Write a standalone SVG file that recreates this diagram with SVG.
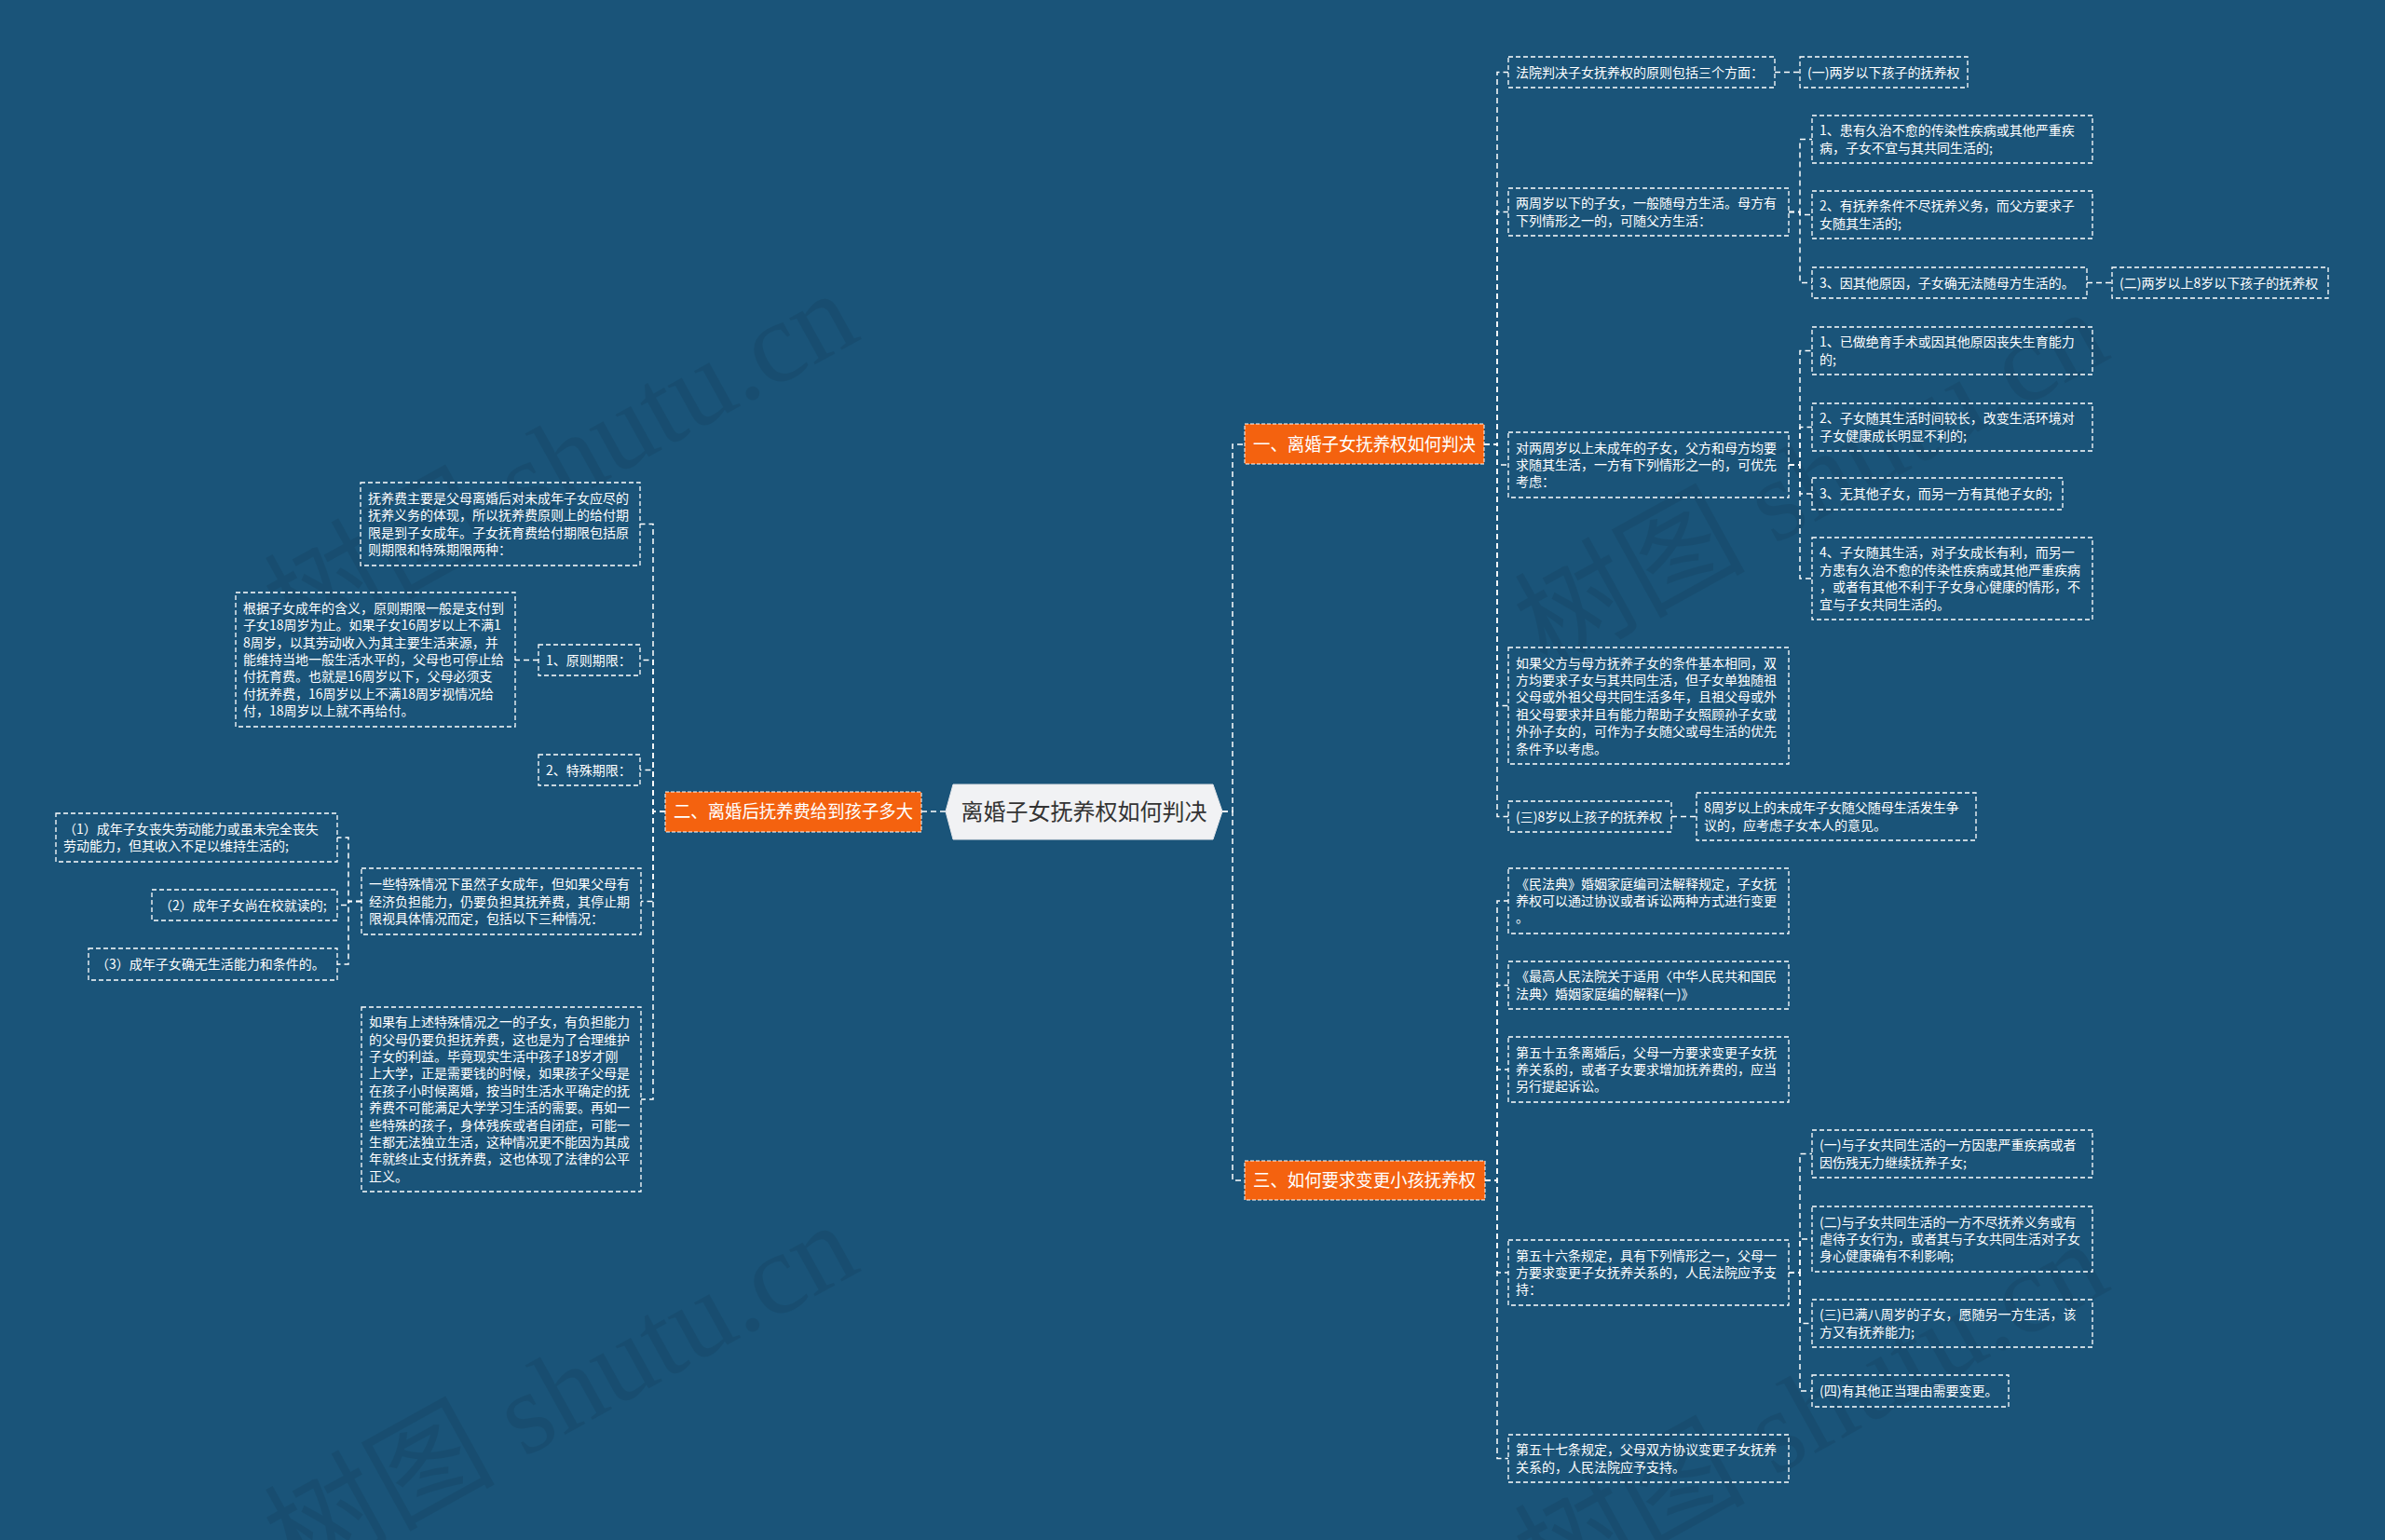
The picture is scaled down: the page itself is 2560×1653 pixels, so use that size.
<svg xmlns="http://www.w3.org/2000/svg" width="2560" height="1653" viewBox="0 0 2560 1653">
<style>
.bg{fill:#1a5479}
.wm{font-family:"Liberation Serif","Noto Sans CJK SC",serif;font-size:124px;fill:#000;opacity:0.07}
.box{fill:none;stroke:#fff;stroke-width:1.3;stroke-dasharray:5 3}
.t{font-family:"Noto Sans CJK SC","Noto Sans",sans-serif;font-size:14px;fill:#fff}
.org{fill:#f4620f;stroke:#fff;stroke-width:1;stroke-dasharray:4 2}
.ot{font-family:"Noto Sans CJK SC","Noto Sans",sans-serif;font-size:19.5px;fill:#fff}
.ct{font-family:"Noto Sans CJK SC","Noto Sans",sans-serif;font-size:24px;fill:#333}
.conn path{fill:none;stroke:#fff;stroke-width:1.5;stroke-dasharray:6 4}
</style>
<rect class="bg" x="0" y="0" width="2560" height="1653"/>
<g id="watermark">
<text class="wm" transform="translate(318,700) rotate(-29)">树图 shutu.cn</text>
<text class="wm" transform="translate(1660,720) rotate(-29)">树图 shutu.cn</text>
<text class="wm" transform="translate(318,1700) rotate(-29)">树图 shutu.cn</text>
<text class="wm" transform="translate(1660,1720) rotate(-29)">树图 shutu.cn</text>
</g>
<g id="connectors" class="conn">
<path d="M1015,871 H989"/>
<path d="M1312,871 H1323 V477 H1336"/>
<path d="M1312,871 H1323 V1267 H1336"/>
<path d="M1593,477 H1607 V77.5 H1619"/>
<path d="M1593,477 H1607 V227.5 H1619"/>
<path d="M1593,477 H1607 V499 H1619"/>
<path d="M1593,477 H1607 V757.5 H1619"/>
<path d="M1593,477 H1607 V876.5 H1619"/>
<path d="M1905,77.5 H1932"/>
<path d="M1920,227.5 H1932 V149.5 H1945"/>
<path d="M1920,227.5 H1932 V230.5 H1945"/>
<path d="M1920,227.5 H1932 V303.5 H1945"/>
<path d="M2240,303.5 H2267"/>
<path d="M1920,499 H1932 V376.5 H1945"/>
<path d="M1920,499 H1932 V458.5 H1945"/>
<path d="M1920,499 H1932 V530 H1945"/>
<path d="M1920,499 H1932 V621 H1945"/>
<path d="M1794,876.5 H1821"/>
<path d="M1594,1267 H1607 V967 H1619"/>
<path d="M1594,1267 H1607 V1057.5 H1619"/>
<path d="M1594,1267 H1607 V1148 H1619"/>
<path d="M1594,1267 H1607 V1366 H1619"/>
<path d="M1594,1267 H1607 V1565.5 H1619"/>
<path d="M1920,1366 H1932 V1238.5 H1945"/>
<path d="M1920,1366 H1932 V1330 H1945"/>
<path d="M1920,1366 H1932 V1420.5 H1945"/>
<path d="M1920,1366 H1932 V1493 H1945"/>
<path d="M714,871 H701 V562.5 H687"/>
<path d="M714,871 H701 V708.5 H687"/>
<path d="M714,871 H701 V826.5 H687"/>
<path d="M714,871 H701 V967.5 H688"/>
<path d="M714,871 H701 V1180 H688"/>
<path d="M578,708.5 H553"/>
<path d="M388,967.5 H374 V899 H362"/>
<path d="M388,967.5 H374 V971.5 H362"/>
<path d="M388,967.5 H374 V1035 H362"/>
</g>
<g id="root">
<path d="M1023,842 H1302 L1312,871 L1302,901 H1023 L1015,871 Z" fill="#f1f2f4" stroke="#e2e4e8" stroke-width="1"/>
<text class="ct" x="1163.5" y="880" text-anchor="middle">离婚子女抚养权如何判决</text>
</g>
<g id="o1"><rect class="org" x="1336" y="455" width="257" height="43"/><text class="ot" x="1345" y="483.5" textLength="239" lengthAdjust="spacingAndGlyphs">一、离婚子女抚养权如何判决</text></g>
<g id="o2"><rect class="org" x="714" y="850" width="275" height="43"/><text class="ot" x="723" y="878" textLength="257" lengthAdjust="spacingAndGlyphs">二、离婚后抚养费给到孩子多大</text></g>
<g id="o3"><rect class="org" x="1336" y="1246" width="258" height="42"/><text class="ot" x="1345" y="1274" textLength="239" lengthAdjust="spacingAndGlyphs">三、如何要求变更小孩抚养权</text></g>

<g id="a1"><rect class="box" x="1619" y="61" width="286" height="33"/><text class="t" x="1627" y="82.5">法院判决子女抚养权的原则包括三个方面：</text></g>
<g id="a1c"><rect class="box" x="1932" y="61" width="180" height="33"/><text class="t" x="1940" y="82.5">(一)两岁以下孩子的抚养权</text></g>
<g id="a2"><rect class="box" x="1619" y="202" width="301" height="51"/><text class="t"><tspan x="1627" y="223.3">两周岁以下的子女，一般随母方生活。母方有</tspan><tspan x="1627" y="241.7">下列情形之一的，可随父方生活：</tspan></text></g>
<g id="a2a"><rect class="box" x="1945" y="124" width="301" height="51"/><text class="t"><tspan x="1953" y="145.3">1、患有久治不愈的传染性疾病或其他严重疾</tspan><tspan x="1953" y="163.7">病，子女不宜与其共同生活的;</tspan></text></g>
<g id="a2b"><rect class="box" x="1945" y="205" width="301" height="51"/><text class="t"><tspan x="1953" y="226.3">2、有抚养条件不尽抚养义务，而父方要求子</tspan><tspan x="1953" y="244.7">女随其生活的;</tspan></text></g>
<g id="a2c"><rect class="box" x="1945" y="287" width="295" height="33"/><text class="t" x="1953" y="308.5">3、因其他原因，子女确无法随母方生活的。</text></g>
<g id="a2cc"><rect class="box" x="2267" y="287" width="232" height="33"/><text class="t" x="2275" y="308.5">(二)两岁以上8岁以下孩子的抚养权</text></g>
<g id="a3"><rect class="box" x="1619" y="464" width="301" height="70"/><text class="t"><tspan x="1627" y="485.6">对两周岁以上未成年的子女，父方和母方均要</tspan><tspan x="1627" y="504">求随其生活，一方有下列情形之一的，可优先</tspan><tspan x="1627" y="522.4">考虑：</tspan></text></g>
<g id="a3a"><rect class="box" x="1945" y="351" width="301" height="51"/><text class="t"><tspan x="1953" y="372.3">1、已做绝育手术或因其他原因丧失生育能力</tspan><tspan x="1953" y="390.7">的;</tspan></text></g>
<g id="a3b"><rect class="box" x="1945" y="433" width="301" height="51"/><text class="t"><tspan x="1953" y="454.3">2、子女随其生活时间较长，改变生活环境对</tspan><tspan x="1953" y="472.7">子女健康成长明显不利的;</tspan></text></g>
<g id="a3c"><rect class="box" x="1945" y="513" width="269" height="34"/><text class="t" x="1953" y="535">3、无其他子女，而另一方有其他子女的;</text></g>
<g id="a3d"><rect class="box" x="1945" y="577" width="301" height="88"/><text class="t"><tspan x="1953" y="598.4">4、子女随其生活，对子女成长有利，而另一</tspan><tspan x="1953" y="616.8">方患有久治不愈的传染性疾病或其他严重疾病</tspan><tspan x="1953" y="635.2">，或者有其他不利于子女身心健康的情形，不</tspan><tspan x="1953" y="653.6">宜与子女共同生活的。</tspan></text></g>
<g id="a4"><rect class="box" x="1619" y="695" width="301" height="125"/><text class="t"><tspan x="1627" y="716.5">如果父方与母方抚养子女的条件基本相同，双</tspan><tspan x="1627" y="734.9">方均要求子女与其共同生活，但子女单独随祖</tspan><tspan x="1627" y="753.3">父母或外祖父母共同生活多年，且祖父母或外</tspan><tspan x="1627" y="771.7">祖父母要求并且有能力帮助子女照顾孙子女或</tspan><tspan x="1627" y="790.1">外孙子女的，可作为子女随父或母生活的优先</tspan><tspan x="1627" y="808.5">条件予以考虑。</tspan></text></g>
<g id="a5"><rect class="box" x="1619" y="860" width="175" height="33"/><text class="t" x="1627" y="881.5">(三)8岁以上孩子的抚养权</text></g>
<g id="a5c"><rect class="box" x="1821" y="851" width="300" height="51"/><text class="t"><tspan x="1829" y="872.3">8周岁以上的未成年子女随父随母生活发生争</tspan><tspan x="1829" y="890.7">议的，应考虑子女本人的意见。</tspan></text></g>

<g id="b1"><rect class="box" x="1619" y="932" width="301" height="70"/><text class="t"><tspan x="1627" y="953.6">《民法典》婚姻家庭编司法解释规定，子女抚</tspan><tspan x="1627" y="972">养权可以通过协议或者诉讼两种方式进行变更</tspan><tspan x="1627" y="990.4">。</tspan></text></g>
<g id="b2"><rect class="box" x="1619" y="1032" width="301" height="51"/><text class="t"><tspan x="1627" y="1053.3">《最高人民法院关于适用〈中华人民共和国民</tspan><tspan x="1627" y="1071.7">法典〉婚姻家庭编的解释(一)》</tspan></text></g>
<g id="b3"><rect class="box" x="1619" y="1113" width="301" height="70"/><text class="t"><tspan x="1627" y="1134.6">第五十五条离婚后，父母一方要求变更子女抚</tspan><tspan x="1627" y="1153">养关系的，或者子女要求增加抚养费的，应当</tspan><tspan x="1627" y="1171.4">另行提起诉讼。</tspan></text></g>
<g id="b4"><rect class="box" x="1619" y="1331" width="301" height="70"/><text class="t"><tspan x="1627" y="1352.6">第五十六条规定，具有下列情形之一，父母一</tspan><tspan x="1627" y="1371">方要求变更子女抚养关系的，人民法院应予支</tspan><tspan x="1627" y="1389.4">持：</tspan></text></g>
<g id="b4a"><rect class="box" x="1945" y="1213" width="301" height="51"/><text class="t"><tspan x="1953" y="1234.3">(一)与子女共同生活的一方因患严重疾病或者</tspan><tspan x="1953" y="1252.7">因伤残无力继续抚养子女;</tspan></text></g>
<g id="b4b"><rect class="box" x="1945" y="1295" width="301" height="70"/><text class="t"><tspan x="1953" y="1316.6">(二)与子女共同生活的一方不尽抚养义务或有</tspan><tspan x="1953" y="1335">虐待子女行为，或者其与子女共同生活对子女</tspan><tspan x="1953" y="1353.4">身心健康确有不利影响;</tspan></text></g>
<g id="b4c"><rect class="box" x="1945" y="1395" width="301" height="51"/><text class="t"><tspan x="1953" y="1416.3">(三)已满八周岁的子女，愿随另一方生活，该</tspan><tspan x="1953" y="1434.7">方又有抚养能力;</tspan></text></g>
<g id="b4d"><rect class="box" x="1945" y="1476" width="211" height="34"/><text class="t" x="1953" y="1498">(四)有其他正当理由需要变更。</text></g>
<g id="b5"><rect class="box" x="1619" y="1540" width="301" height="51"/><text class="t"><tspan x="1627" y="1561.3">第五十七条规定，父母双方协议变更子女抚养</tspan><tspan x="1627" y="1579.7">关系的，人民法院应予支持。</tspan></text></g>

<g id="c1"><rect class="box" x="387" y="518" width="300" height="89"/><text class="t"><tspan x="395" y="539.9">抚养费主要是父母离婚后对未成年子女应尽的</tspan><tspan x="395" y="558.3">抚养义务的体现，所以抚养费原则上的给付期</tspan><tspan x="395" y="576.7">限是到子女成年。子女抚育费给付期限包括原</tspan><tspan x="395" y="595.1">则期限和特殊期限两种：</tspan></text></g>
<g id="c2"><rect class="box" x="578" y="692" width="109" height="33"/><text class="t" x="586" y="713.5">1、原则期限：</text></g>
<g id="c2c"><rect class="box" x="253" y="636" width="300" height="144"/><text class="t"><tspan x="261" y="657.8">根据子女成年的含义，原则期限一般是支付到</tspan><tspan x="261" y="676.2">子女18周岁为止。如果子女16周岁以上不满1</tspan><tspan x="261" y="694.6">8周岁，以其劳动收入为其主要生活来源，并</tspan><tspan x="261" y="713">能维持当地一般生活水平的，父母也可停止给</tspan><tspan x="261" y="731.4">付抚育费。也就是16周岁以下，父母必须支</tspan><tspan x="261" y="749.8">付抚养费，16周岁以上不满18周岁视情况给</tspan><tspan x="261" y="768.2">付，18周岁以上就不再给付。</tspan></text></g>
<g id="c3"><rect class="box" x="578" y="810" width="109" height="33"/><text class="t" x="586" y="831.5">2、特殊期限：</text></g>
<g id="c4"><rect class="box" x="388" y="932" width="300" height="71"/><text class="t"><tspan x="396" y="954.1">一些特殊情况下虽然子女成年，但如果父母有</tspan><tspan x="396" y="972.5">经济负担能力，仍要负担其抚养费，其停止期</tspan><tspan x="396" y="990.9">限视具体情况而定，包括以下三种情况：</tspan></text></g>
<g id="c4a"><rect class="box" x="60" y="873" width="302" height="52"/><text class="t"><tspan x="68" y="894.8">（1）成年子女丧失劳动能力或虽未完全丧失</tspan><tspan x="68" y="913.2">劳动能力，但其收入不足以维持生活的;</tspan></text></g>
<g id="c4b"><rect class="box" x="163" y="955" width="199" height="33"/><text class="t" x="171" y="976.5">（2）成年子女尚在校就读的;</text></g>
<g id="c4c"><rect class="box" x="95" y="1018" width="267" height="34"/><text class="t" x="103" y="1040">（3）成年子女确无生活能力和条件的。</text></g>
<g id="c5"><rect class="box" x="388" y="1081" width="300" height="198"/><text class="t"><tspan x="396" y="1102.2">如果有上述特殊情况之一的子女，有负担能力</tspan><tspan x="396" y="1120.6">的父母仍要负担抚养费，这也是为了合理维护</tspan><tspan x="396" y="1139">子女的利益。毕竟现实生活中孩子18岁才刚</tspan><tspan x="396" y="1157.4">上大学，正是需要钱的时候，如果孩子父母是</tspan><tspan x="396" y="1175.8">在孩子小时候离婚，按当时生活水平确定的抚</tspan><tspan x="396" y="1194.2">养费不可能满足大学学习生活的需要。再如一</tspan><tspan x="396" y="1212.6">些特殊的孩子，身体残疾或者自闭症，可能一</tspan><tspan x="396" y="1231">生都无法独立生活，这种情况更不能因为其成</tspan><tspan x="396" y="1249.4">年就终止支付抚养费，这也体现了法律的公平</tspan><tspan x="396" y="1267.8">正义。</tspan></text></g>
</svg>
